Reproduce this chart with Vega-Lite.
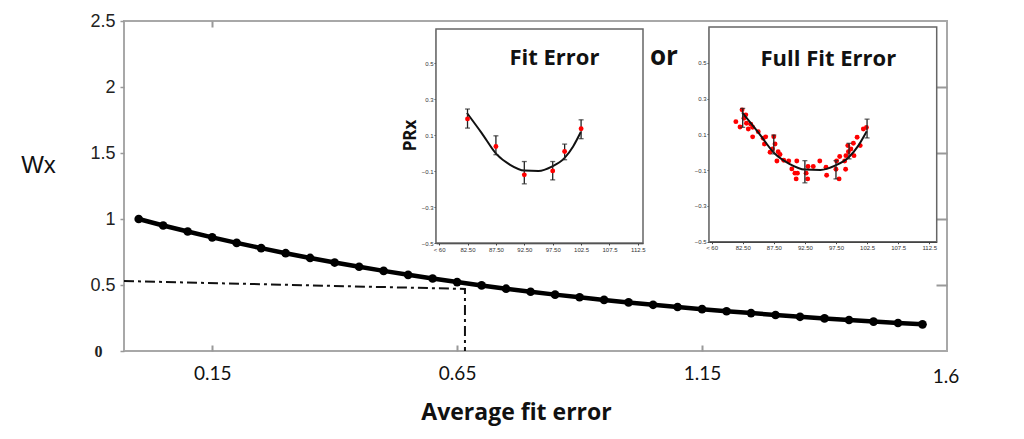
{
  "$schema": "https://vega.github.io/schema/vega-lite/v6.json",
  "width": 823,
  "height": 330,
  "autosize": {"type": "none"},
  "padding": {"left": 124, "top": 21, "right": 77, "bottom": 88},
  "background": "white",
  "config": {"view": {"stroke": "#a8a8a8", "strokeWidth": 2}, "axis": {"labelOverlap": false, "labelBound": false}},
  "datasets": {
    "w": [
      {"x": 0, "y": 1.0}, {"x": 0.05, "y": 0.951}, {"x": 0.1, "y": 0.905}, {"x": 0.15, "y": 0.861},
      {"x": 0.2, "y": 0.819}, {"x": 0.25, "y": 0.779}, {"x": 0.3, "y": 0.741}, {"x": 0.35, "y": 0.705},
      {"x": 0.4, "y": 0.67}, {"x": 0.45, "y": 0.638}, {"x": 0.5, "y": 0.607}, {"x": 0.55, "y": 0.577},
      {"x": 0.6, "y": 0.549}, {"x": 0.65, "y": 0.522}, {"x": 0.7, "y": 0.497}, {"x": 0.75, "y": 0.472},
      {"x": 0.8, "y": 0.449}, {"x": 0.85, "y": 0.427}, {"x": 0.9, "y": 0.407}, {"x": 0.95, "y": 0.387},
      {"x": 1.0, "y": 0.368}, {"x": 1.05, "y": 0.35}, {"x": 1.1, "y": 0.333}, {"x": 1.15, "y": 0.317},
      {"x": 1.2, "y": 0.301}, {"x": 1.25, "y": 0.287}, {"x": 1.3, "y": 0.273}, {"x": 1.35, "y": 0.259},
      {"x": 1.4, "y": 0.247}, {"x": 1.45, "y": 0.235}, {"x": 1.5, "y": 0.223}, {"x": 1.55, "y": 0.212},
      {"x": 1.6, "y": 0.202}
    ],
    "guide": [
      {"i": 1, "x": -0.03, "y": 0.53},
      {"i": 2, "x": 0.666, "y": 0.47},
      {"i": 3, "x": 0.666, "y": 0}
    ],
    "bars": [
      {"x": 82.5, "m": 0.19, "lo": 0.139, "hi": 0.245},
      {"x": 87.5, "m": 0.037, "lo": -0.009, "hi": 0.096},
      {"x": 92.5, "m": -0.121, "lo": -0.171, "hi": -0.047},
      {"x": 97.5, "m": -0.099, "lo": -0.149, "hi": -0.047},
      {"x": 99.6, "m": 0.009, "lo": -0.037, "hi": 0.05},
      {"x": 102.5, "m": 0.135, "lo": 0.08, "hi": 0.185}
    ],
    "curve": [
      {"x": 82.4, "y": 0.223}, {"x": 85.0, "y": 0.111}, {"x": 87.6, "y": -0.006},
      {"x": 90.0, "y": -0.065}, {"x": 92.5, "y": -0.097}, {"x": 95.0, "y": -0.099},
      {"x": 97.35, "y": -0.075}, {"x": 99.56, "y": -0.028}, {"x": 101.1, "y": 0.037},
      {"x": 102.45, "y": 0.117}
    ],
    "scatter": [
      {"x": 81.4, "y": 0.171}, {"x": 82.07, "y": 0.141}, {"x": 82.4, "y": 0.237}, {"x": 82.7, "y": 0.19},
      {"x": 83.0, "y": 0.209}, {"x": 83.1, "y": 0.162}, {"x": 83.4, "y": 0.13}, {"x": 83.8, "y": 0.157},
      {"x": 84.1, "y": 0.14}, {"x": 84.1, "y": 0.086}, {"x": 85.0, "y": 0.115}, {"x": 85.8, "y": 0.078},
      {"x": 86.0, "y": 0.046}, {"x": 86.2, "y": 0.086}, {"x": 86.9, "y": 0.0}, {"x": 87.3, "y": 0.018},
      {"x": 87.5, "y": 0.087}, {"x": 87.7, "y": 0.046}, {"x": 88.0, "y": -0.049}, {"x": 88.2, "y": 0.003},
      {"x": 88.5, "y": -0.013}, {"x": 89.1, "y": -0.045}, {"x": 89.9, "y": -0.049}, {"x": 90.4, "y": -0.093},
      {"x": 90.9, "y": -0.117}, {"x": 91.1, "y": -0.149}, {"x": 91.2, "y": -0.049}, {"x": 91.3, "y": -0.117},
      {"x": 92.7, "y": -0.117}, {"x": 92.95, "y": -0.149}, {"x": 93.0, "y": -0.08}, {"x": 93.85, "y": -0.08},
      {"x": 94.9, "y": -0.049}, {"x": 95.9, "y": -0.084}, {"x": 96.0, "y": -0.129}, {"x": 97.5, "y": -0.095},
      {"x": 97.6, "y": -0.049}, {"x": 98.0, "y": -0.149}, {"x": 98.1, "y": -0.024}, {"x": 98.9, "y": -0.049},
      {"x": 99.05, "y": -0.095}, {"x": 99.1, "y": -0.019}, {"x": 99.4, "y": 0.037}, {"x": 99.5, "y": 0.003},
      {"x": 99.9, "y": 0.018}, {"x": 100.3, "y": 0.05}, {"x": 100.4, "y": -0.019}, {"x": 100.9, "y": 0.084},
      {"x": 101.4, "y": 0.037}, {"x": 101.9, "y": 0.13}, {"x": 102.4, "y": 0.138}
    ]
  },
  "layer": [
    {
      "layer": [
        {
          "data": {"name": "guide"},
          "mark": {"type": "line", "color": "#111", "strokeWidth": 2, "strokeDash": [10, 4, 3, 4]},
          "encoding": {
            "x": {"field": "x", "type": "quantitative",
              "scale": {"domain": [-0.03, 1.65], "nice": false, "zero": false},
              "axis": {"orient": "bottom", "values": [0.15, 0.65, 1.15, 1.6], "format": ".2~f",
                "labelFont": "Lato", "labelFontSize": 19, "labelColor": "#111",
                "labelFlush": false, "labelOverlap": false,
                "tickSize": -6, "tickColor": "#999", "tickWidth": 2, "domain": false, "grid": false,
                "labelPadding": {"condition": {"test": "datum.value == 1.6", "value": 22}, "value": 19},
                "labelOffset": {"condition": {"test": "datum.value == 1.6", "value": 23}, "value": 0},
                "tickOpacity": {"condition": {"test": "datum.value == 1.6", "value": 0}, "value": 1},
                "title": "Average fit error", "titleFont": "Open Sans", "titleFontSize": 23,
                "titleFontWeight": "bold", "titleColor": "#111", "titleX": 392, "titleY": 61,
                "titleAlign": "center", "titleBaseline": "middle", "titleAnchor": null}},
            "y": {"field": "y", "type": "quantitative",
              "scale": {"domain": [0, 2.5], "nice": false, "zero": false},
              "axis": {"orient": "left", "values": [0, 0.5, 1, 1.5, 2, 2.5], "format": "~g",
                "labelFont": {"condition": {"test": "datum.value == 0", "value": "Liberation Serif"}, "value": "Liberation Sans"},
                "labelFontWeight": {"condition": {"test": "datum.value == 0", "value": "bold"}, "value": "normal"},
                "labelFontSize": {"condition": {"test": "datum.value == 0", "value": 16}, "value": 18},
                "labelPadding": {"condition": {"test": "datum.value == 0", "value": 18}, "value": 5},
                "labelColor": "#222", "labelOverlap": false, "labelFlush": false,
                "tickSize": 4, "tickColor": "#999", "tickWidth": 1.5, "domain": false, "grid": false,
                "title": "Wx", "titleAngle": 0, "titleFont": "Liberation Sans", "titleFontSize": 24,
                "titleFontWeight": "normal", "titleColor": "#111", "titleX": -86, "titleY": 144,
                "titleAlign": "center", "titleBaseline": "middle"}},
            "order": {"field": "i", "type": "quantitative"}
          }
        },
        {
          "data": {"name": "w"},
          "mark": {"type": "line", "color": "#000", "strokeWidth": 4.5},
          "encoding": {
            "x": {"field": "x", "type": "quantitative", "scale": {"domain": [-0.03, 1.65], "nice": false, "zero": false}},
            "y": {"field": "y", "type": "quantitative", "scale": {"domain": [0, 2.5], "nice": false, "zero": false}}
          }
        },
        {
          "data": {"name": "w"},
          "mark": {"type": "point", "filled": true, "color": "#000", "size": 75, "opacity": 1},
          "encoding": {
            "x": {"field": "x", "type": "quantitative", "scale": {"domain": [-0.03, 1.65], "nice": false, "zero": false}},
            "y": {"field": "y", "type": "quantitative", "scale": {"domain": [0, 2.5], "nice": false, "zero": false}}
          }
        },
        {
          "data": {"values": [{}]},
          "mark": {"type": "text", "text": "or", "font": "Open Sans", "fontWeight": "bold", "fontSize": 26, "color": "#111", "align": "center", "baseline": "alphabetic"},
          "encoding": {
            "x": {"datum": 1.072, "type": "quantitative", "scale": {"domain": [-0.03, 1.65], "nice": false, "zero": false}},
            "y": {"datum": 2.164, "type": "quantitative", "scale": {"domain": [0, 2.5], "nice": false, "zero": false}}
          }
        }
      ]
    },
    {
      "data": {"values": [{}]},
      "mark": {"type": "point", "opacity": 0},
      "encoding": {
        "x": {"datum": 0.15, "type": "quantitative",
          "scale": {"domain": [-0.03, 1.65], "nice": false, "zero": false},
          "axis": {"orient": "top", "values": [0.15], "labels": false, "tickSize": -6, "tickColor": "#999", "tickWidth": 2, "domain": false, "grid": false, "title": null}},
        "y": {"datum": 0.5, "type": "quantitative",
          "scale": {"domain": [0, 2.5], "nice": false, "zero": false},
          "axis": {"orient": "right", "values": [0.5, 1, 1.5, 2], "labels": false, "tickSize": -11, "tickColor": "#999", "tickWidth": 2, "domain": false, "grid": false, "title": null}}
      }
    },
    {
      "layer": [
        {
          "data": {"values": [{}]},
          "mark": {"type": "rect", "fill": "white", "stroke": "#666", "strokeWidth": 1.5},
          "encoding": {
            "x": {"datum": 76.95, "type": "quantitative",
              "scale": {"domain": [76.95, 113.4], "range": [312, 519], "nice": false, "zero": false},
              "axis": {"orient": "bottom", "offset": -108, "values": [77.5, 82.5, 87.5, 92.5, 97.5, 102.5, 107.5, 112.5],
                "labelExpr": "datum.value < 80 ? '< 60' : (datum.value < 100 ? format(datum.value, '.2f') : format(datum.value, '.1f'))",
                "labelFont": "Liberation Sans", "labelFontSize": 6, "labelColor": "#333", "labelPadding": 1,
                "labelFlush": false, "labelOverlap": false, "tickSize": 2, "tickColor": "#444",
                "domainColor": "#222", "domainWidth": 1.5, "grid": false, "title": null}},
            "x2": {"datum": 113.4},
            "y": {"datum": -0.5, "type": "quantitative",
              "scale": {"domain": [-0.5, 0.69], "range": [222, 8], "nice": false, "zero": false},
              "axis": {"orient": "left", "offset": -312, "values": [-0.5, -0.4, -0.3, -0.2, -0.1, 0, 0.1, 0.2, 0.3, 0.4, 0.5, 0.6],
                "labelExpr": "datum.value == 0 ? '0' : format(datum.value, '.1f')",
                "labelFont": "Liberation Sans", "labelFontSize": 6, "labelColor": "#333", "labelPadding": 1,
                "labelFlush": false, "labelOverlap": false, "tickSize": 2, "tickColor": "#444",
                "domainColor": "#222", "domainWidth": 1.5, "grid": false,
                "title": "PRx", "titleFont": "Open Sans", "titleFontSize": 17, "titleFontWeight": "bold",
                "titleColor": "#111", "titleAngle": -90, "titleX": -26, "titleY": 114,
                "titleAlign": "center", "titleBaseline": "middle"}},
            "y2": {"datum": 0.69}
          }
        },
        {
          "data": {"name": "curve"},
          "mark": {"type": "line", "color": "#111", "strokeWidth": 2, "interpolate": "monotone"},
          "encoding": {
            "x": {"field": "x", "type": "quantitative", "scale": {"domain": [76.95, 113.4], "range": [312, 519], "nice": false, "zero": false}},
            "y": {"field": "y", "type": "quantitative", "scale": {"domain": [-0.5, 0.69], "range": [222, 8], "nice": false, "zero": false}}
          }
        },
        {
          "data": {"name": "bars"},
          "mark": {"type": "rule", "color": "#222", "strokeWidth": 1.3},
          "encoding": {
            "x": {"field": "x", "type": "quantitative", "scale": {"domain": [76.95, 113.4], "range": [312, 519], "nice": false, "zero": false}},
            "y": {"field": "lo", "type": "quantitative", "scale": {"domain": [-0.5, 0.69], "range": [222, 8], "nice": false, "zero": false}},
            "y2": {"field": "hi"}
          }
        },
        {
          "data": {"name": "bars"},
          "mark": {"type": "tick", "orient": "horizontal", "size": 5, "thickness": 1.3, "color": "#222"},
          "encoding": {
            "x": {"field": "x", "type": "quantitative", "scale": {"domain": [76.95, 113.4], "range": [312, 519], "nice": false, "zero": false}},
            "y": {"field": "hi", "type": "quantitative", "scale": {"domain": [-0.5, 0.69], "range": [222, 8], "nice": false, "zero": false}}
          }
        },
        {
          "data": {"name": "bars"},
          "mark": {"type": "tick", "orient": "horizontal", "size": 5, "thickness": 1.3, "color": "#222"},
          "encoding": {
            "x": {"field": "x", "type": "quantitative", "scale": {"domain": [76.95, 113.4], "range": [312, 519], "nice": false, "zero": false}},
            "y": {"field": "lo", "type": "quantitative", "scale": {"domain": [-0.5, 0.69], "range": [222, 8], "nice": false, "zero": false}}
          }
        },
        {
          "data": {"name": "bars"},
          "mark": {"type": "circle", "color": "#ff0000", "size": 24, "opacity": 1},
          "encoding": {
            "x": {"field": "x", "type": "quantitative", "scale": {"domain": [76.95, 113.4], "range": [312, 519], "nice": false, "zero": false}},
            "y": {"field": "m", "type": "quantitative", "scale": {"domain": [-0.5, 0.69], "range": [222, 8], "nice": false, "zero": false}}
          }
        },
        {
          "data": {"values": [{}]},
          "mark": {"type": "text", "text": "Fit Error", "font": "Open Sans", "fontWeight": "bold", "fontSize": 22, "color": "#111", "align": "center", "baseline": "alphabetic"},
          "encoding": {
            "x": {"datum": 97.8, "type": "quantitative", "scale": {"domain": [76.95, 113.4], "range": [312, 519], "nice": false, "zero": false}},
            "y": {"datum": 0.488, "type": "quantitative", "scale": {"domain": [-0.5, 0.69], "range": [222, 8], "nice": false, "zero": false}}
          }
        }
      ]
    },
    {
      "layer": [
        {
          "data": {"values": [{}]},
          "mark": {"type": "rect", "fill": "white", "stroke": "#666", "strokeWidth": 1.5},
          "encoding": {
            "x": {"datum": 77.08, "type": "quantitative",
              "scale": {"domain": [77.08, 113.7], "range": [585, 812.7], "nice": false, "zero": false},
              "axis": {"orient": "bottom", "offset": -109.3, "values": [77.5, 82.5, 87.5, 92.5, 97.5, 102.5, 107.5, 112.5],
                "labelExpr": "datum.value < 80 ? '< 60' : (datum.value < 100 ? format(datum.value, '.2f') : format(datum.value, '.1f'))",
                "labelFont": "Liberation Sans", "labelFontSize": 6, "labelColor": "#333", "labelPadding": 1,
                "labelFlush": false, "labelOverlap": false, "tickSize": 2, "tickColor": "#444",
                "domainColor": "#222", "domainWidth": 1.5, "grid": false, "title": null}},
            "x2": {"datum": 113.7},
            "y": {"datum": -0.5, "type": "quantitative",
              "scale": {"domain": [-0.5, 0.7], "range": [220.7, 6], "nice": false, "zero": false},
              "axis": {"orient": "left", "offset": -585, "values": [-0.5, -0.4, -0.3, -0.2, -0.1, 0, 0.1, 0.2, 0.3, 0.4, 0.5, 0.6],
                "labelExpr": "datum.value == 0 ? '0' : format(datum.value, '.1f')",
                "labelFont": "Liberation Sans", "labelFontSize": 6, "labelColor": "#333", "labelPadding": 1,
                "labelFlush": false, "labelOverlap": false, "tickSize": 2, "tickColor": "#444",
                "domainColor": "#222", "domainWidth": 1.5, "grid": false, "title": null}},
            "y2": {"datum": 0.7}
          }
        },
        {
          "data": {"name": "scatter"},
          "mark": {"type": "circle", "color": "#ff0000", "size": 24, "opacity": 1},
          "encoding": {
            "x": {"field": "x", "type": "quantitative", "scale": {"domain": [77.08, 113.7], "range": [585, 812.7], "nice": false, "zero": false}},
            "y": {"field": "y", "type": "quantitative", "scale": {"domain": [-0.5, 0.7], "range": [220.7, 6], "nice": false, "zero": false}}
          }
        },
        {
          "data": {"name": "curve"},
          "mark": {"type": "line", "color": "#111", "strokeWidth": 2, "interpolate": "monotone"},
          "encoding": {
            "x": {"field": "x", "type": "quantitative", "scale": {"domain": [77.08, 113.7], "range": [585, 812.7], "nice": false, "zero": false}},
            "y": {"field": "y", "type": "quantitative", "scale": {"domain": [-0.5, 0.7], "range": [220.7, 6], "nice": false, "zero": false}}
          }
        },
        {
          "data": {"name": "bars"},
          "mark": {"type": "rule", "color": "#222", "strokeWidth": 1.3},
          "encoding": {
            "x": {"field": "x", "type": "quantitative", "scale": {"domain": [77.08, 113.7], "range": [585, 812.7], "nice": false, "zero": false}},
            "y": {"field": "lo", "type": "quantitative", "scale": {"domain": [-0.5, 0.7], "range": [220.7, 6], "nice": false, "zero": false}},
            "y2": {"field": "hi"}
          }
        },
        {
          "data": {"name": "bars"},
          "mark": {"type": "tick", "orient": "horizontal", "size": 5, "thickness": 1.3, "color": "#222"},
          "encoding": {
            "x": {"field": "x", "type": "quantitative", "scale": {"domain": [77.08, 113.7], "range": [585, 812.7], "nice": false, "zero": false}},
            "y": {"field": "hi", "type": "quantitative", "scale": {"domain": [-0.5, 0.7], "range": [220.7, 6], "nice": false, "zero": false}}
          }
        },
        {
          "data": {"name": "bars"},
          "mark": {"type": "tick", "orient": "horizontal", "size": 5, "thickness": 1.3, "color": "#222"},
          "encoding": {
            "x": {"field": "x", "type": "quantitative", "scale": {"domain": [77.08, 113.7], "range": [585, 812.7], "nice": false, "zero": false}},
            "y": {"field": "lo", "type": "quantitative", "scale": {"domain": [-0.5, 0.7], "range": [220.7, 6], "nice": false, "zero": false}}
          }
        },
        {
          "data": {"values": [{}]},
          "mark": {"type": "text", "text": "Full Fit Error", "font": "Open Sans", "fontWeight": "bold", "fontSize": 22, "color": "#111", "align": "center", "baseline": "alphabetic"},
          "encoding": {
            "x": {"datum": 96.27, "type": "quantitative", "scale": {"domain": [77.08, 113.7], "range": [585, 812.7], "nice": false, "zero": false}},
            "y": {"datum": 0.484, "type": "quantitative", "scale": {"domain": [-0.5, 0.7], "range": [220.7, 6], "nice": false, "zero": false}}
          }
        }
      ]
    }
  ],
  "resolve": {"scale": {"x": "independent", "y": "independent"}}
}
